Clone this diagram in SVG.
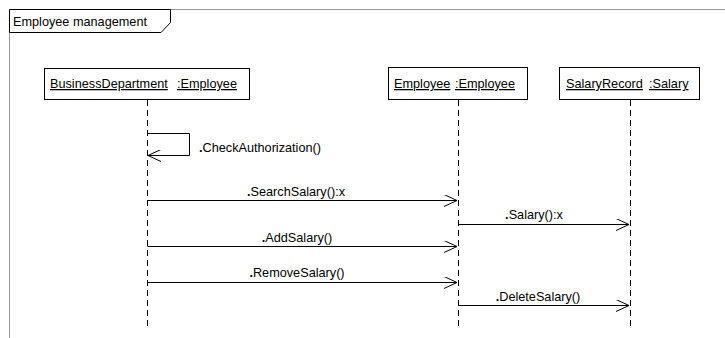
<svg xmlns="http://www.w3.org/2000/svg" width="725" height="338" viewBox="0 0 725 338">
<style>
text{font-family:"Liberation Sans",Arial,sans-serif;font-size:12.7px;fill:#000}
.u{text-decoration:underline}
.m{text-anchor:middle}
.box{fill:#fff;stroke:#000;stroke-width:1}
.life{stroke:#000;stroke-width:1;stroke-dasharray:6,4}
.msg{stroke:#000;stroke-width:1;fill:none}
</style>
<defs>
<marker id="open" markerWidth="14" markerHeight="12" refX="13" refY="6" orient="auto" markerUnits="userSpaceOnUse">
<path d="M0,0 L13,6 L0,12" fill="none" stroke="#000" stroke-width="1"/>
</marker>
</defs>
<rect width="725" height="338" fill="#fff"/>
<g id="frame">
<path d="M9.5,338 L9.5,9.5 L725,9.5" fill="none" stroke="#999" stroke-width="1"/>
<path d="M9.5,9.5 L170.5,9.5 L170.5,22.5 L161,32.5 L9.5,32.5 Z" fill="#fff" stroke="#000" stroke-width="1"/>
<text x="13" y="26">Employee management</text>
</g>
<g id="lifelines">
<line class="life" x1="147.5" y1="100" x2="147.5" y2="326"/>
<line class="life" x1="458.5" y1="100" x2="458.5" y2="326"/>
<line class="life" x1="630.5" y1="100" x2="630.5" y2="326"/>
</g>
<g id="businessDepartment">
<rect class="box" x="44.5" y="68.5" width="205" height="31"/>
<text x="50" y="88" class="u">BusinessDepartment</text>
<text x="177" y="88" class="u">:Employee</text>
</g>
<g id="employee">
<rect class="box" x="388.5" y="67.5" width="139" height="32"/>
<text x="394" y="88" class="u">Employee</text>
<text x="455" y="88" class="u">:Employee</text>
</g>
<g id="salaryRecord">
<rect class="box" x="559.5" y="67.5" width="140" height="32"/>
<text x="566" y="88" class="u">SalaryRecord</text>
<text x="649" y="88" class="u">:Salary</text>
</g>
<g id="connectors">
<path class="msg" d="M147.5,133.5 L189.5,133.5 L189.5,155.5 L148,155.5" marker-end="url(#open)"/>
<text x="199" y="152"><tspan font-weight="bold">.</tspan>CheckAuthorization()</text>
<line class="msg" x1="147.5" y1="200.5" x2="457" y2="200.5" marker-end="url(#open)"/>
<text x="296" y="196" class="m"><tspan font-weight="bold">.</tspan>SearchSalary():x</text>
<line class="msg" x1="458.5" y1="224.5" x2="629" y2="224.5" marker-end="url(#open)"/>
<text x="534" y="219" class="m"><tspan font-weight="bold">.</tspan>Salary():x</text>
<line class="msg" x1="147.5" y1="246.5" x2="457" y2="246.5" marker-end="url(#open)"/>
<text x="297" y="242" class="m"><tspan font-weight="bold">.</tspan>AddSalary()</text>
<line class="msg" x1="147.5" y1="282.5" x2="457" y2="282.5" marker-end="url(#open)"/>
<text x="297" y="277" class="m"><tspan font-weight="bold">.</tspan>RemoveSalary()</text>
<line class="msg" x1="458.5" y1="305.5" x2="629" y2="305.5" marker-end="url(#open)"/>
<text x="538" y="301" class="m"><tspan font-weight="bold">.</tspan>DeleteSalary()</text>
</g>
</svg>
